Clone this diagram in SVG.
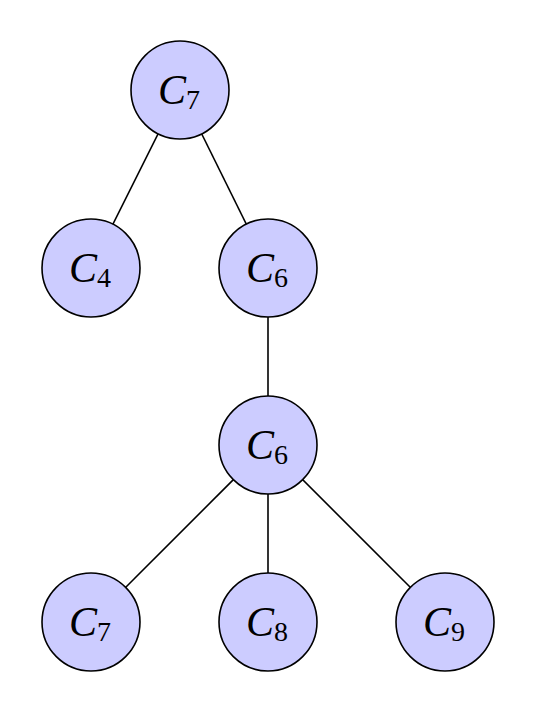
<svg xmlns="http://www.w3.org/2000/svg" width="537" height="714" viewBox="0 0 537 714">
<style>
.n circle{fill:#ccccff;stroke:#000;stroke-width:1.6}
.n text{font-family:"Liberation Serif","DejaVu Serif",serif;font-size:42px;fill:#000;text-anchor:middle}
.n .v{font-style:italic}
.n .s{font-size:28px}
#edges line{stroke:#000;stroke-width:1.6}
</style>
<rect width="537" height="714" fill="#fff"/>
<g id="edges">
<line x1="180" y1="90" x2="91" y2="268"/>
<line x1="180" y1="90" x2="268" y2="268"/>
<line x1="268" y1="268" x2="268" y2="445"/>
<line x1="268" y1="445" x2="91" y2="622"/>
<line x1="268" y1="445" x2="268" y2="622"/>
<line x1="268" y1="445" x2="445" y2="622"/>
</g>
<g id="n1" class="n"><circle cx="180" cy="90" r="49"/><text x="179" y="104"><tspan class="v">C</tspan><tspan class="s" dy="5">7</tspan></text></g>
<g id="n2" class="n"><circle cx="91" cy="268" r="49"/><text x="90" y="282"><tspan class="v">C</tspan><tspan class="s" dy="5">4</tspan></text></g>
<g id="n3" class="n"><circle cx="268" cy="268" r="49"/><text x="267" y="282"><tspan class="v">C</tspan><tspan class="s" dy="5">6</tspan></text></g>
<g id="n4" class="n"><circle cx="268" cy="445" r="49"/><text x="267" y="459"><tspan class="v">C</tspan><tspan class="s" dy="5">6</tspan></text></g>
<g id="n5" class="n"><circle cx="91" cy="622" r="49"/><text x="90" y="636"><tspan class="v">C</tspan><tspan class="s" dy="5">7</tspan></text></g>
<g id="n6" class="n"><circle cx="268" cy="622" r="49"/><text x="267" y="636"><tspan class="v">C</tspan><tspan class="s" dy="5">8</tspan></text></g>
<g id="n7" class="n"><circle cx="445" cy="622" r="49"/><text x="444" y="636"><tspan class="v">C</tspan><tspan class="s" dy="5">9</tspan></text></g>
</svg>
